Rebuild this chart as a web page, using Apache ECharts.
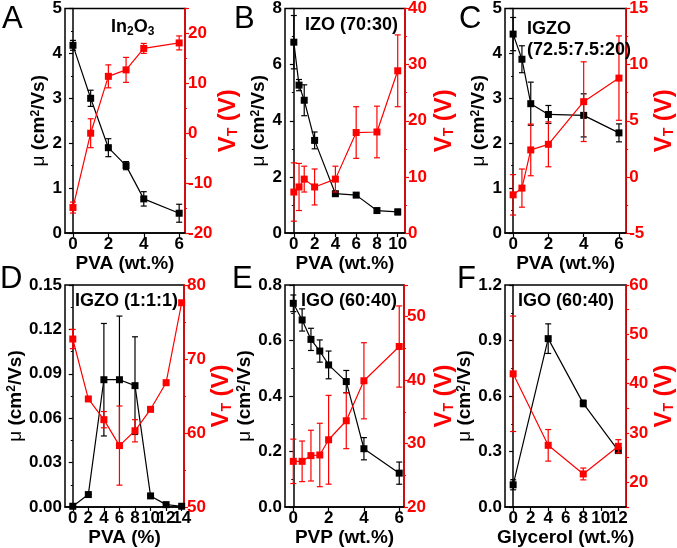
<!DOCTYPE html>
<html>
<head>
<meta charset="utf-8">
<script src="https://cdn.jsdelivr.net/npm/echarts@6/dist/echarts.min.js"></script>
<style>
html,body{margin:0;padding:0;background:#fff}
#chart{width:677px;height:548px}
</style>
</head>
<body>
<div id="chart"></div>
<script>
// A: In2O3
var aX = [0, 1, 2, 3, 4, 6];
var aMu = [4.18, 3.0, 1.9, 1.5, 0.76, 0.44];
var aMuErr = [0.11, 0.18, 0.2, 0.09, 0.16, 0.2];
var aVt = [-14.9, 0, 11.4, 12.7, 17.0, 18.1];
var aVtErr = [1.1, 2.9, 2.3, 2.5, 1.0, 1.4];
var aXTicks = [0, 2, 4, 6];
var aVtLabels = [-20, -10, 0, 10, 20];

// B: IZO (70:30)
var bX = [0, 0.5, 1, 2, 4, 6, 8, 10];
var bMu = [6.8, 5.27, 4.73, 3.3, 1.4, 1.35, 0.8, 0.75];
var bMuErr = [0.95, 0.2, 0.55, 0.3, 0.08, 0.06, 0.06, 0.1];
var bVt = [7.3, 8.2, 9.6, 8.2, 9.6, 17.9, 18.0, 28.9];
var bVtErr = [5.2, 4.2, 2.3, 3.2, 2.3, 4.6, 4.6, 6.4];
var bXTicks = [0, 2, 4, 6, 8, 10];
var bVtLabels = [0, 10, 20, 30, 40];

// C: IGZO (72.5:7.5:20)
var cX = [0, 0.5, 1, 2, 4, 6];
var cMu = [4.43, 3.87, 2.88, 2.64, 2.62, 2.23];
var cMuErr = [0.37, 0.3, 0.48, 0.2, 0.48, 0.2];
var cVt = [-1.6, -1.0, 2.4, 2.9, 6.7, 8.8];
var cVtErr = [1.8, 1.7, 2.3, 2.0, 3.55, 3.76];
var cXTicks = [0, 2, 4, 6];
var cVtLabels = [-5, 0, 5, 10, 15];

// D: IGZO (1:1:1)
var dX = [0, 2, 4, 6, 8, 10, 12, 14];
var dMu = [0.0005, 0.0084, 0.086, 0.086, 0.082, 0.0075, 0.0016, 0.0005];
var dMuErr = [0, 0, 0.038, 0.043, 0.033, 0, 0, 0];
var dVt = [72.7, 64.6, 61.8, 58.3, 60.3, 63.2, 66.8, 77.6];
var dVtErr = [1.3, 0.3, 1.1, 5.35, 1.5, 0.3, 0.3, 0.3];
var dXTicks = [0, 2, 4, 6, 8, 10, 12, 14];
var dVtLabels = [50, 60, 70, 80];

// E: IGO (60:40), PVP
var eX = [0, 0.5, 1, 1.5, 2, 3, 4, 6];
var eMu = [0.734, 0.674, 0.604, 0.562, 0.512, 0.452, 0.21, 0.122];
var eMuErr = [0.03, 0.04, 0.04, 0.04, 0.05, 0.04, 0.04, 0.04];
var eVt = [27.2, 27.2, 28.1, 28.2, 30.6, 33.6, 39.9, 45.3];
var eVtErr = [3.5, 3.2, 4.0, 5.0, 7.0, 4.4, 6.0, 6.4];
var eXTicks = [0, 2, 4, 6];
var eVtLabels = [20, 30, 40, 50];

// F: IGO (60:40), Glycerol
var fX = [0, 4, 8, 12];
var fMu = [0.12, 0.91, 0.56, 0.305];
var fMuErr = [0.027, 0.08, 0.018, 0.013];
var fVt = [42.0, 27.5, 21.7, 27.3];
var fVtErr = [11.7, 3.2, 1.2, 1.35];
var fXTicks = [0, 2, 4, 6, 8, 10, 12];
var fVtLabels = [20, 30, 40, 50, 60];

var RED = '#ff0000';
var FONT = 'Liberation Sans, Arial, sans-serif';

var panels = [
  {grid: {left: 65, top: 8, width: 120, height: 225}, x: aX, mu: aMu, muErr: aMuErr, vt: aVt, vtErr: aVtErr,
   xMin: -0.45, xMax: 6.33, xTicks: aXTicks, xName: 'PVA (wt.%)', xGap: 19,
   muMin: 0, muMax: 5, muStep: 1, muDigits: 0, vtMin: -20, vtMax: 25, vtStep: 10, vtMinor: 2, vtLabels: aVtLabels,
   leftGap: 10, rightGap: 16},
  {grid: {left: 285, top: 8, width: 120, height: 225}, x: bX, mu: bMu, muErr: bMuErr, vt: bVt, vtErr: bVtErr,
   xMin: -0.85, xMax: 10.7, xTicks: bXTicks, xName: 'PVA (wt.%)', xGap: 19,
   muMin: 0, muMax: 8, muStep: 2, muDigits: 0, vtMin: 0, vtMax: 40, vtStep: 10, vtMinor: 2, vtLabels: bVtLabels,
   leftGap: 12, rightGap: 27},
  {grid: {left: 505, top: 8, width: 123, height: 225}, x: cX, mu: cMu, muErr: cMuErr, vt: cVt, vtErr: cVtErr,
   xMin: -0.46, xMax: 6.41, xTicks: cXTicks, xName: 'PVA (wt.%)', xGap: 19,
   muMin: 0, muMax: 5, muStep: 1, muDigits: 0, vtMin: -5, vtMax: 15, vtStep: 5, vtMinor: 2, vtLabels: cVtLabels,
   leftGap: 10, rightGap: 18},
  {grid: {left: 65, top: 285, width: 119, height: 222}, x: dX, mu: dMu, muErr: dMuErr, vt: dVt, vtErr: dVtErr,
   xMin: -1, xMax: 14.3, xTicks: dXTicks, xName: 'PVA (%)', xGap: 20,
   muMin: 0, muMax: 0.15, muStep: 0.03, muDigits: 2, vtMin: 50, vtMax: 80, vtStep: 10, vtMinor: 2, vtLabels: dVtLabels,
   leftGap: 38, rightGap: 24},
  {grid: {left: 285, top: 285, width: 119, height: 222}, x: eX, mu: eMu, muErr: eMuErr, vt: eVt, vtErr: eVtErr,
   xMin: -0.47, xMax: 6.27, xTicks: eXTicks, xName: 'PVP (wt.%)', xGap: 20,
   muMin: 0, muMax: 0.8, muStep: 0.2, muDigits: 1, vtMin: 20, vtMax: 55, vtStep: 10, vtMinor: 2, vtLabels: eVtLabels,
   leftGap: 23, rightGap: 28},
  {grid: {left: 505, top: 285, width: 124, height: 222}, x: fX, mu: fMu, muErr: fMuErr, vt: fVt, vtErr: fVtErr,
   xMin: -0.93, xMax: 12.9, xTicks: fXTicks, xName: 'Glycerol (wt.%)', xGap: 20,
   muMin: 0, muMax: 1.2, muStep: 0.3, muDigits: 1, vtMin: 15, vtMax: 60, vtStep: 5, vtMinor: 0, vtLabels: fVtLabels,
   leftGap: 20, rightGap: 20}
];

function errorBar(color) {
  return function (params, api) {
    var x = api.value(0);
    var lo = api.coord([x, api.value(1)]);
    var hi = api.coord([x, api.value(2)]);
    var w = 3;
    var st = {stroke: color, lineWidth: 1.2};
    return {type: 'group', children: [
      {type: 'line', shape: {x1: hi[0], y1: hi[1], x2: lo[0], y2: lo[1]}, style: st},
      {type: 'line', shape: {x1: hi[0] - w, y1: hi[1], x2: hi[0] + w, y2: hi[1]}, style: st},
      {type: 'line', shape: {x1: lo[0] - w, y1: lo[1], x2: lo[0] + w, y2: lo[1]}, style: st}
    ]};
  };
}

function pairs(xs, ys) {
  return xs.map(function (x, i) { return [x, ys[i]]; });
}
function bars(xs, ys, es) {
  return xs.map(function (x, i) { return [x, ys[i] - es[i], ys[i] + es[i]]; });
}
function pick(list, v) {
  for (var k = 0; k < list.length; k++) { if (Math.abs(list[k] - v) < 1e-6) return String(list[k]); }
  return '';
}

var grids = [], xAxes = [], yAxes = [], series = [];

panels.forEach(function (p, i) {
  grids.push({left: p.grid.left, top: p.grid.top, width: p.grid.width, height: p.grid.height,
    show: true, borderColor: '#000', borderWidth: 1.5, backgroundColor: 'transparent'});

  // an empty label at the axis end keeps the last real label from being dropped
  var xt = p.xTicks;
  xAxes.push({
    gridIndex: i, type: 'value', min: p.xMin, max: p.xMax,
    name: p.xName, nameLocation: 'middle', nameGap: p.xGap,
    nameTextStyle: {fontFamily: FONT, fontWeight: 'bold', fontSize: 19, color: '#000'},
    axisLine: {onZero: false, lineStyle: {color: '#000', width: 1.5}},
    axisTick: {customValues: xt, length: 4, lineStyle: {color: '#000', width: 1.2}},
    axisLabel: {customValues: xt.concat([p.xMax]), margin: 3, hideOverlap: false,
      fontFamily: FONT, fontWeight: 'bold', fontSize: 17, color: '#000',
      formatter: function (v) { return pick(xt, v); }},
    splitLine: {show: false}
  });

  var lbls = p.vtLabels;
  yAxes.push({
    gridIndex: i, type: 'value', position: 'left', min: p.muMin, max: p.muMax, interval: p.muStep,
    name: '{mu|μ} (cm{sup|2}/Vs)', nameLocation: 'middle', nameGap: p.leftGap, nameRotate: 90,
    nameTextStyle: {fontFamily: FONT, fontWeight: 'bold', fontSize: 19, color: '#000',
      rich: {mu: {fontFamily: FONT, fontSize: 19, fontWeight: 'normal', color: '#000'},
             sup: {fontFamily: FONT, fontSize: 12, fontWeight: 'bold', color: '#000', verticalAlign: 'top'}}},
    axisLine: {show: true, lineStyle: {color: '#000', width: 1.5}},
    axisTick: {length: 4, lineStyle: {color: '#000', width: 1.2}},
    minorTick: {show: true, splitNumber: 2, length: 2, lineStyle: {color: '#000', width: 1}},
    axisLabel: {margin: 3, fontFamily: FONT, fontWeight: 'bold', fontSize: 17, color: '#000',
      formatter: function (v) { return v.toFixed(p.muDigits); }},
    splitLine: {show: false}
  });
  yAxes.push({
    gridIndex: i, type: 'value', position: 'right', min: p.vtMin, max: p.vtMax, interval: p.vtStep,
    name: 'V{sub|T} (V)', nameLocation: 'middle', nameGap: p.rightGap, nameRotate: 90,
    nameTextStyle: {fontFamily: FONT, fontWeight: 'bold', fontSize: 24, color: RED,
      rich: {sub: {fontFamily: FONT, fontSize: 14, fontWeight: 'bold', color: RED, verticalAlign: 'bottom'}}},
    axisLine: {show: true, lineStyle: {color: RED, width: 1.5}},
    axisTick: {length: p.vtMinor ? 4 : 3, lineStyle: {color: RED, width: 1.2}},
    minorTick: {show: p.vtMinor > 0, splitNumber: p.vtMinor || 2, length: 2, lineStyle: {color: RED, width: 1}},
    axisLabel: {margin: 3, fontFamily: FONT, fontWeight: 'bold', fontSize: 17, color: RED,
      formatter: function (v) { return pick(lbls, v); }},
    splitLine: {show: false}
  });

  series.push({type: 'line', xAxisIndex: i, yAxisIndex: 2 * i, data: pairs(p.x, p.mu),
    symbol: 'rect', symbolSize: 7, itemStyle: {color: '#000'}, lineStyle: {color: '#000', width: 1.2}, z: 3});
  series.push({type: 'custom', xAxisIndex: i, yAxisIndex: 2 * i, data: bars(p.x, p.mu, p.muErr),
    renderItem: errorBar('#000'), encode: {x: 0, y: [1, 2]}, z: 3, clip: false});
  series.push({type: 'line', xAxisIndex: i, yAxisIndex: 2 * i + 1, data: pairs(p.x, p.vt),
    symbol: 'rect', symbolSize: 7, itemStyle: {color: RED}, lineStyle: {color: RED, width: 1.2}, z: 4});
  series.push({type: 'custom', xAxisIndex: i, yAxisIndex: 2 * i + 1, data: bars(p.x, p.vt, p.vtErr),
    renderItem: errorBar(RED), encode: {x: 0, y: [1, 2]}, z: 4, clip: false});
});

var letterStyle = {fontFamily: FONT, fontSize: 31, fontWeight: 'normal', color: '#000'};
var tagStyle = {fontFamily: FONT, fontSize: 18, fontWeight: 'bold', color: '#000', lineHeight: 21,
  rich: {sub: {fontFamily: FONT, fontSize: 12, fontWeight: 'bold', color: '#000', verticalAlign: 'bottom'}}};

var titles = [
  {text: 'A', left: 2, top: 4, padding: 0, textStyle: letterStyle},
  {text: 'B', left: 234, top: 4, padding: 0, textStyle: letterStyle},
  {text: 'C', left: 459, top: 4, padding: 0, textStyle: letterStyle},
  {text: 'D', left: 0, top: 264, padding: 0, textStyle: letterStyle},
  {text: 'E', left: 232, top: 264, padding: 0, textStyle: letterStyle},
  {text: 'F', left: 457, top: 264, padding: 0, textStyle: letterStyle},
  {text: 'In{sub|2}O{sub|3}', left: 111, top: 17, padding: 0, textStyle: tagStyle},
  {text: 'IZO (70:30)', left: 305, top: 15, padding: 0, textStyle: tagStyle},
  {text: 'IGZO\n(72.5:7.5:20)', left: 527, top: 19, padding: 0, textStyle: tagStyle},
  {text: 'IGZO (1:1:1)', left: 75, top: 291, padding: 0, textStyle: tagStyle},
  {text: 'IGO (60:40)', left: 301, top: 291, padding: 0, textStyle: tagStyle},
  {text: 'IGO (60:40)', left: 518, top: 291, padding: 0, textStyle: tagStyle}
];

var myChart = echarts.init(document.getElementById('chart'), null, {renderer: 'canvas'});
myChart.setOption({
  animation: false,
  backgroundColor: '#fff',
  title: titles,
  grid: grids,
  xAxis: xAxes,
  yAxis: yAxes,
  series: series
});
</script>
</body>
</html>
